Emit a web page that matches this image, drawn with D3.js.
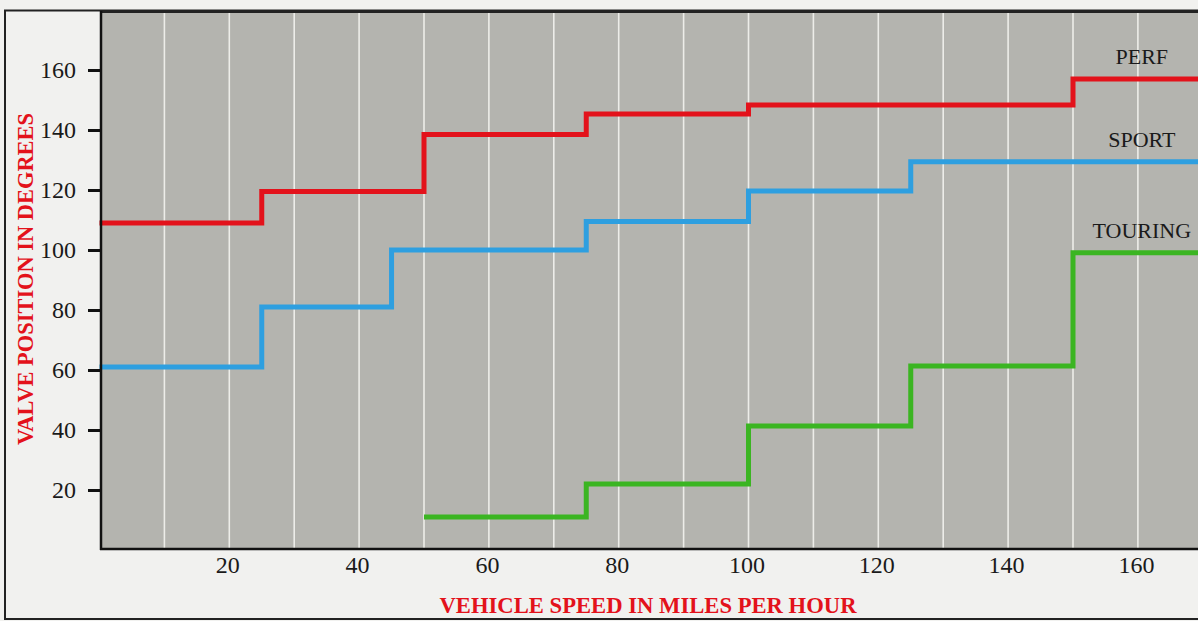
<!DOCTYPE html>
<html>
<head>
<meta charset="utf-8">
<script src="https://cdn.jsdelivr.net/npm/d3@7"></script>
<style>
  html, body { margin: 0; padding: 0; background: #f1f1ef; }
  svg { display: block; }
</style>
</head>
<body>
<svg id="chart" width="1198" height="621"></svg>
<script>
// ---- data ----
const xTicks = [20, 40, 60, 80, 100, 120, 140, 160];
const yTicks = [20, 40, 60, 80, 100, 120, 140, 160];
const gridX = [10, 20, 30, 40, 50, 60, 70, 80, 90, 100, 110, 120, 130, 140, 150, 160];

const perfSpeed    = [0, 25, 50, 75, 100, 150, 170];
const perfValve    = [109, 119.5, 138.5, 145.3, 148.3, 157, 157];
const sportSpeed   = [0, 25, 45, 75, 100, 125, 170];
const sportValve   = [61, 81, 100, 109.5, 119.7, 129.4, 129.4];
const touringSpeed = [50, 75, 100, 125, 150, 170];
const touringValve = [11, 22, 41.3, 61.3, 99.1, 99.1];

const seriesNames = ["PERF", "SPORT", "TOURING"];
const seriesColors = ["#e3121b", "#2e9fe0", "#3bb522"];
const labelSpeed = 160.6;

// ---- layout ----
const svg = d3.select("#chart");
const plotLeft = 101, plotTop = 12, plotRight = 1200, plotBottom = 549;
const serif = "Liberation Serif, DejaVu Serif, serif";

const x = d3.scaleLinear().domain([0, 170]).range([99.5, 99.5 + 170 * 6.49]);
const y = d3.scaleLinear().domain([0, 180]).range([550, 10]);

// outer frame
svg.append("rect")
  .attr("x", 5).attr("y", 10.5).attr("width", 1300).attr("height", 608.5)
  .attr("fill", "none").attr("stroke", "#222").attr("stroke-width", 2);

// plot background
svg.append("rect")
  .attr("x", plotLeft).attr("y", plotTop)
  .attr("width", plotRight - plotLeft).attr("height", plotBottom - plotTop)
  .attr("fill", "#b4b4af");

// grid lines
svg.append("g").selectAll("line").data(gridX).join("line")
  .attr("x1", d => x(d)).attr("x2", d => x(d))
  .attr("y1", plotTop).attr("y2", plotBottom)
  .attr("stroke", "#f4f4f0").attr("stroke-width", 1.6).attr("opacity", 0.9);

// top border of plot
svg.append("line")
  .attr("x1", plotLeft).attr("x2", 1198).attr("y1", plotTop).attr("y2", plotTop)
  .attr("stroke", "#222").attr("stroke-width", 2);

// series
const series = [
  {name: seriesNames[0], xs: perfSpeed, ys: perfValve, color: seriesColors[0]},
  {name: seriesNames[1], xs: sportSpeed, ys: sportValve, color: seriesColors[1]},
  {name: seriesNames[2], xs: touringSpeed, ys: touringValve, color: seriesColors[2]}
];
const line = d3.line().x(d => x(d[0])).y(d => y(d[1])).curve(d3.curveStepAfter);
series.forEach(s => {
  const pts = s.xs.map((v, i) => [v, s.ys[i]]);
  svg.append("path").datum(pts)
    .attr("d", line)
    .attr("fill", "none")
    .attr("stroke", s.color)
    .attr("stroke-width", 5)
    .attr("stroke-linejoin", "miter")
    .attr("stroke-linecap", "butt");
  svg.append("text")
    .attr("x", x(labelSpeed))
    .attr("y", y(s.ys[s.ys.length - 1]) - 15)
    .attr("text-anchor", "middle")
    .attr("font-family", serif)
    .attr("font-size", 22)
    .attr("fill", "#1a1a1a")
    .text(s.name);
});

// y axis
const yAxis = d3.axisLeft(y).tickValues(yTicks).tickSize(13).tickPadding(12);
const gy = svg.append("g").attr("transform", `translate(${plotLeft},0)`).call(yAxis);
gy.select(".domain").remove();
gy.selectAll(".tick line").attr("stroke", "#111").attr("stroke-width", 3);
gy.selectAll(".tick text")
  .attr("font-family", serif)
  .attr("font-size", 24).attr("fill", "#1a1a1a");
svg.append("line")
  .attr("x1", plotLeft).attr("x2", plotLeft).attr("y1", plotTop - 1).attr("y2", plotBottom + 1)
  .attr("stroke", "#111").attr("stroke-width", 2.5);

// x axis
const xAxis = d3.axisBottom(x).tickValues(xTicks).tickSize(0).tickPadding(7);
const gx = svg.append("g").attr("transform", `translate(0,${plotBottom})`).call(xAxis);
gx.select(".domain").remove();
gx.selectAll(".tick text")
  .attr("font-family", serif)
  .attr("font-size", 24).attr("fill", "#1a1a1a")
  .attr("dx", -2);
svg.append("line")
  .attr("x1", plotLeft - 1).attr("x2", 1198).attr("y1", plotBottom).attr("y2", plotBottom)
  .attr("stroke", "#111").attr("stroke-width", 2.5);

// axis titles
svg.append("text")
  .attr("x", 648).attr("y", 613)
  .attr("text-anchor", "middle")
  .attr("font-family", serif)
  .attr("font-weight", "bold").attr("font-size", 23)
  .attr("textLength", 417).attr("lengthAdjust", "spacingAndGlyphs")
  .attr("fill", "#e3121b")
  .text("VEHICLE SPEED IN MILES PER HOUR");

svg.append("text")
  .attr("transform", "translate(33,279) rotate(-90)")
  .attr("text-anchor", "middle")
  .attr("font-family", serif)
  .attr("font-weight", "bold").attr("font-size", 23)
  .attr("textLength", 332).attr("lengthAdjust", "spacingAndGlyphs")
  .attr("fill", "#e3121b")
  .text("VALVE POSITION IN DEGREES");
</script>
</body>
</html>
